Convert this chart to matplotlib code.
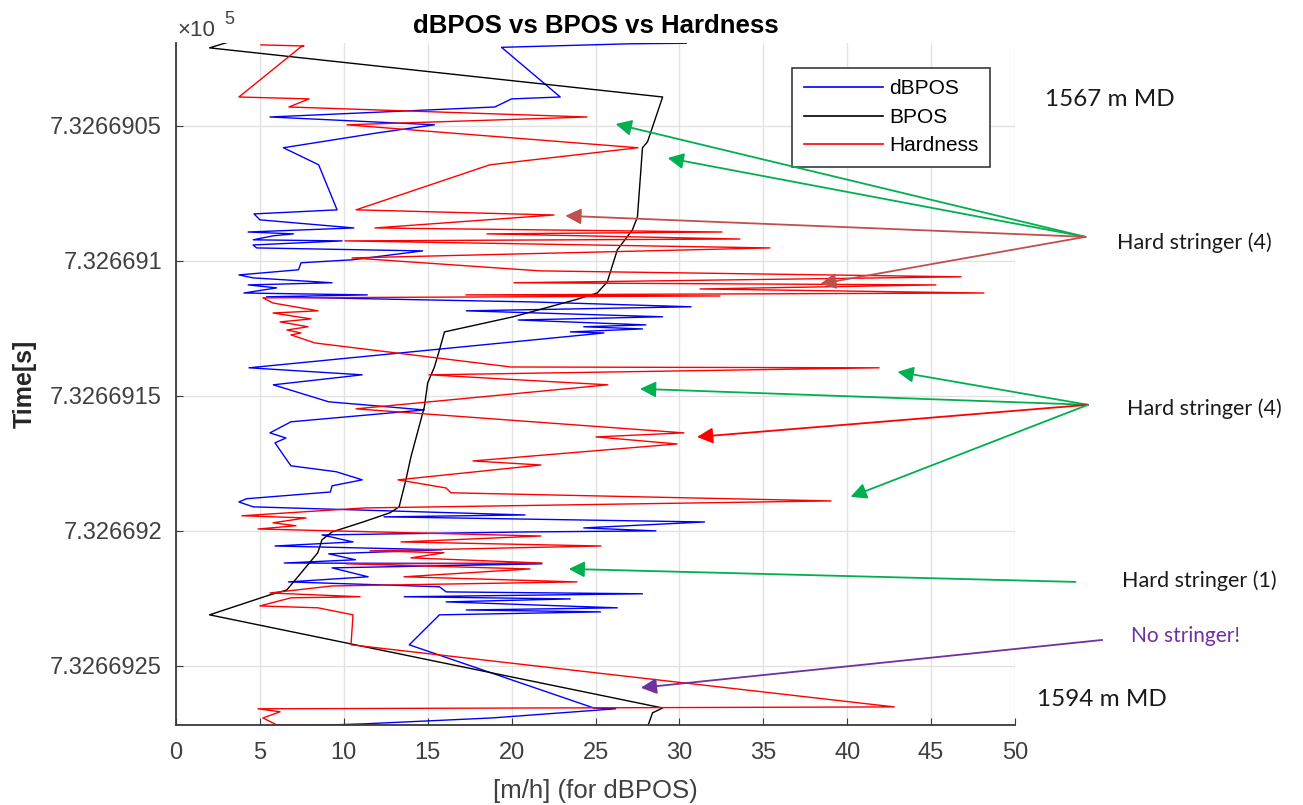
import matplotlib
matplotlib.use("Agg")
import matplotlib.pyplot as plt
from matplotlib.lines import Line2D

# ---------------- data ----------------
T0 = 732669.0  # seconds; time values below are offsets from T0

dbpos_t = [0.0194, 0.0196, 0.0209, 0.0393, 0.0400, 0.0430, 0.0467, 0.0496, 0.0526, 0.0581,
           0.0644, 0.0811, 0.0826, 0.0848, 0.0878, 0.0893, 0.0900, 0.0907, 0.0922, 0.0926,
           0.0941, 0.0952, 0.0963, 0.0996, 0.1007, 0.1033, 0.1052, 0.1063, 0.1081, 0.1089,
           0.1100, 0.1119, 0.1126, 0.1133, 0.1152, 0.1170, 0.1185, 0.1207, 0.1219, 0.1237,
           0.1244, 0.1252, 0.1263, 0.1267, 0.1396, 0.1422, 0.1459, 0.1522, 0.1552, 0.1596,
           0.1637, 0.1656, 0.1674, 0.1737, 0.1759, 0.1781, 0.1811, 0.1833, 0.1856, 0.1881,
           0.1893, 0.1911, 0.1941, 0.1948, 0.1967, 0.1989, 0.2000, 0.2004, 0.2015, 0.2041,
           0.2056, 0.2070, 0.2085, 0.2107, 0.2119, 0.2122, 0.2137, 0.2170, 0.2189, 0.2207,
           0.2226, 0.2233, 0.2244, 0.2252, 0.2263, 0.2285, 0.2293, 0.2300, 0.2311, 0.2422,
           0.2656, 0.2659, 0.2693, 0.2715, 0.2722]
dbpos_v = [30.4, 27.0, 19.4, 22.9, 20.0, 19.0, 5.6, 15.4, 12.0, 6.4,
           8.5, 9.6, 4.65, 5.0, 10.6, 4.3, 7.0, 5.8, 4.6, 9.9,
           4.6, 4.8, 14.7, 10.5, 7.45, 7.3, 3.75, 4.6, 9.3, 4.3,
           6.0, 4.05, 11.4, 5.4, 21.2, 30.7, 17.3, 29.0, 20.4, 28.0,
           24.3, 27.8, 23.5, 25.5, 4.35, 11.1, 5.8, 9.1, 14.8, 6.85,
           5.6, 6.55, 5.9, 6.6, 6.85, 9.55, 11.1, 9.3, 9.2, 4.2,
           3.75, 4.6, 20.8, 12.4, 31.5, 24.3, 28.6, 20.8, 8.7, 10.55,
           5.9, 15.85, 9.1, 10.7, 6.45, 21.8, 9.3, 11.45, 6.7, 15.7,
           16.1, 27.8, 13.6, 23.5, 16.1, 26.3, 17.3, 25.3, 15.7, 13.9,
           24.9, 26.2, 18.8, 11.1, 7.45]

bpos_t = [0.0190, 0.0211, 0.0393, 0.0559, 0.0581, 0.0837, 0.0885, 0.0959, 0.1078, 0.1119,
          0.1144, 0.1207, 0.1263, 0.1330, 0.1393, 0.1452, 0.1541, 0.1726, 0.1811, 0.1885,
          0.1911, 0.1933, 0.1967, 0.2004, 0.2033, 0.2081, 0.2156, 0.2219, 0.2237, 0.2311,
          0.2656, 0.2674, 0.2726]
bpos_v = [3.1, 2.0, 29.0, 28.1, 27.8, 27.5, 27.2, 26.3, 25.7, 25.1,
          23.8, 20.1, 16.0, 15.7, 15.4, 15.0, 14.8, 14.0, 13.7, 13.4,
          13.3, 12.75, 11.15, 9.3, 8.7, 8.45, 7.45, 6.6, 5.6, 2.0,
          29.0, 28.4, 28.1]

hard_t = [0.0200, 0.0204, 0.0207, 0.0393, 0.0400, 0.0430, 0.0467, 0.0496, 0.0581, 0.0644,
          0.0811, 0.0830, 0.0878, 0.0893, 0.0900, 0.0919, 0.0926, 0.0952, 0.0989, 0.1037,
          0.1059, 0.1081, 0.1089, 0.1104, 0.1119, 0.1126, 0.1130, 0.1137, 0.1156, 0.1185,
          0.1193, 0.1215, 0.1226, 0.1244, 0.1256, 0.1267, 0.1274, 0.1304, 0.1393, 0.1396,
          0.1422, 0.1459, 0.1548, 0.1637, 0.1652, 0.1678, 0.1741, 0.1756, 0.1811, 0.1841,
          0.1859, 0.1889, 0.1915, 0.1944, 0.1952, 0.1970, 0.1981, 0.1993, 0.2019, 0.2041,
          0.2056, 0.2074, 0.2081, 0.2100, 0.2119, 0.2122, 0.2141, 0.2170, 0.2189, 0.2204,
          0.2230, 0.2244, 0.2248, 0.2278, 0.2285, 0.2311, 0.2422, 0.2652, 0.2659, 0.2670,
          0.2693, 0.2719, 0.2722]
hard_v = [5.07, 7.63, 7.45, 3.75, 7.93, 6.73, 24.5, 10.19, 27.53, 18.71,
          10.73, 22.53, 11.86, 32.54, 18.53, 33.61, 10.07, 35.40, 10.49, 21.69,
          46.78, 20.14, 45.29, 31.23, 48.15, 17.28, 32.42, 5.18, 5.78, 8.46,
          5.78, 8.05, 6.20, 7.87, 6.61, 7.45, 6.85, 8.28, 19.96, 41.9,
          15.08, 25.74, 10.73, 30.27, 25.03, 29.86, 17.70, 21.75, 13.23, 16.09,
          16.39, 39.03, 11.26, 3.93, 7.75, 5.78, 7.15, 4.89, 21.75, 13.41,
          25.33, 11.56, 15.97, 14.0, 21.81, 10.13, 21.1, 13.59, 23.9, 9.30,
          5.60, 10.97, 6.85, 5.0, 8.46, 10.55, 10.43, 42.8, 4.89, 6.2,
          5.18, 6.02, 20.14]

series_names = ["dBPOS", "BPOS", "Hardness"]
series_colors = ["#0000ff", "#000000", "#ff0000"]

x_ticks = [0, 5, 10, 15, 20, 25, 30, 35, 40, 45, 50]
y_tick_offsets = [0.05, 0.10, 0.15, 0.20, 0.25]
y_tick_labels = ["7.3266905", "7.326691", "7.3266915", "7.326692", "7.3266925"]

# ---------------- figure ----------------
W, H = 1303, 805
fig = plt.figure(figsize=(W / 100, H / 100), dpi=100)
ax = fig.add_axes([176 / W, 1 - 725 / H, (1015 - 176) / W, (725 - 43) / H])

def tt(lst):
    return [T0 + v for v in lst]

ax.plot(dbpos_v, tt(dbpos_t), color=series_colors[0], lw=1.0)
ax.plot(bpos_v, tt(bpos_t), color=series_colors[1], lw=1.0)
ax.plot(hard_v, tt(hard_t), color=series_colors[2], lw=1.0)

ax.set_xlim(0, 50)
ax.set_ylim(T0 + 0.2719, T0 + 0.0193)
ax.set_xticks(x_ticks)
ax.set_yticks([T0 + v for v in y_tick_offsets])
ax.set_yticklabels(y_tick_labels)
ax.grid(True, color="#e3e3e3", lw=1.0)
ax.set_axisbelow(True)
for s in ["top", "right"]:
    ax.spines[s].set_visible(False)
for s in ["left", "bottom"]:
    ax.spines[s].set_color("#3a3a3a")
    ax.spines[s].set_linewidth(1.3)
ax.tick_params(direction="in", length=5, color="#3a3a3a", labelsize=17,
               labelcolor="#404040")
ax.tick_params(axis="x", pad=12)
ax.tick_params(axis="y", pad=10)
for lab in ax.get_xticklabels() + ax.get_yticklabels():
    lab.set_family("Liberation Sans")

ax.set_xlabel("[m/h] (for dBPOS)", fontsize=18.5, color="#404040",
              family="Liberation Sans", labelpad=11)
ax.set_ylabel("Time[s]", fontsize=18, color="#262626", family="Liberation Sans",
              fontweight="bold", labelpad=10)
ax.set_title("dBPOS vs BPOS vs Hardness", fontsize=18.5, fontweight="bold",
             family="Liberation Sans", pad=7)

ax.text(0.002, 1.003, "\u00d710", transform=ax.transAxes, fontsize=16, color="#404040",
        family="Liberation Sans", ha="left", va="bottom")
ax.text(0.058, 1.022, "5", transform=ax.transAxes, fontsize=13, color="#404040",
        family="Liberation Sans", ha="left", va="bottom")

handles = [Line2D([], [], color=c, lw=1.2) for c in series_colors]
leg = ax.legend(handles, series_names, loc="upper right",
                bbox_to_anchor=(1 - 25 / 839, 1 - 25 / 682), borderaxespad=0,
                fancybox=False, framealpha=1, edgecolor="#3a3a3a",
                handlelength=3.8, labelspacing=0.45, borderpad=0.55, handletextpad=0.3,
                prop={"family": "Liberation Sans", "size": 15})
leg.get_frame().set_linewidth(1.2)
leg.set_zorder(2)

# ---------------- annotations ----------------
GREEN = "#00b050"
BROWN = "#c0504d"
RED = "#ff0000"
PURPLE = "#7030a0"

def arrow(tail, head, color):
    ax.annotate("", xy=(head[0], T0 + head[1]), xytext=(tail[0], T0 + tail[1]),
                arrowprops=dict(arrowstyle="-|>", color=color, lw=1.3,
                                mutation_scale=24, shrinkA=0, shrinkB=0),
                annotation_clip=False, zorder=5)

t1 = (54.2, 0.0911)
arrow(t1, (26.2, 0.0493), GREEN)
arrow(t1, (29.3, 0.0619), GREEN)
arrow(t1, (23.2, 0.0833), BROWN)
arrow(t1, (38.4, 0.1085), BROWN)

t2 = (54.35, 0.1533)
arrow(t2, (43.0, 0.1411), GREEN)
arrow(t2, (27.65, 0.1474), GREEN)
arrow(t2, (31.05, 0.1652), RED)
arrow(t2, (40.2, 0.1874), GREEN)

arrow((53.6, 0.2189), (23.4, 0.2141), GREEN)
arrow((55.2, 0.2404), (27.7, 0.2581), PURPLE)

def label(x, t, s, color="#1a1a1a", size=15.5):
    ax.text(x, T0 + t, s, fontsize=size, color=color, family="Lato",
            ha="left", va="center", clip_on=False)

label(56.1, 0.0933, "Hard stringer (4)")
label(56.7, 0.1548, "Hard stringer (4)")
label(56.4, 0.2185, "Hard stringer (1)")
label(56.9, 0.2389, "No stringer!", color=PURPLE, size=15)
label(51.8, 0.0404, "1567 m MD", size=17.5)
label(51.3, 0.2626, "1594 m MD", size=17.5)

fig.savefig("out.png", dpi=100)
